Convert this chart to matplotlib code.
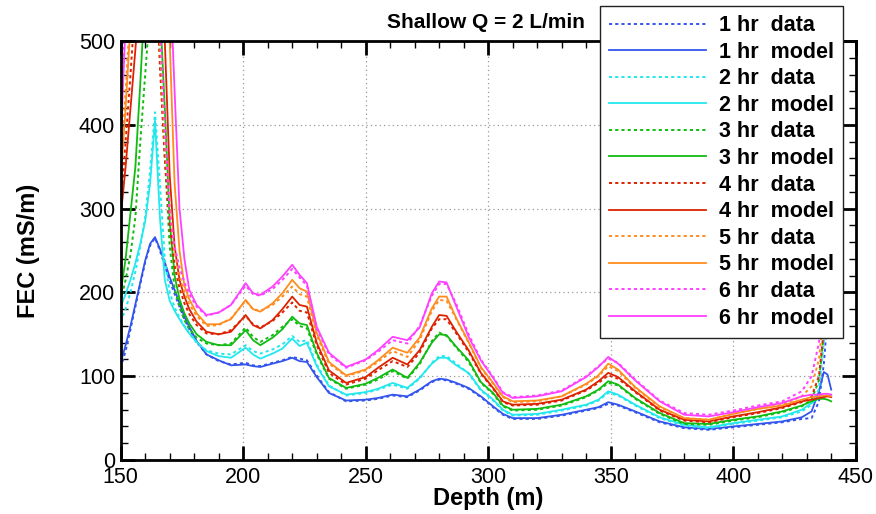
import matplotlib
matplotlib.use("Agg")
import matplotlib.pyplot as plt
from matplotlib.ticker import MultipleLocator

plt.rcParams['font.family'] = ['Liberation Sans', 'DejaVu Sans']

depth = [150, 152, 154, 156, 158, 160, 162, 164, 166, 168,
         170, 172, 174, 176, 178, 181, 185, 190, 195, 201,
         204, 207, 212, 216, 220, 223, 226, 230, 235, 242,
         250, 255, 261, 267, 272, 277, 280, 283, 287, 292,
         297, 302, 306, 310, 320, 330, 340, 345, 349, 353,
         360, 370, 380, 390, 400, 410, 420, 428, 432, 435,
         437, 438.5, 440]

hr1_data = [110, 130, 156, 183, 210, 236, 256, 265, 250, 232,
            214, 198, 183, 168, 156, 141, 126, 118, 114, 116,
            113, 112, 116, 119, 123, 121, 119, 101, 81, 70,
            71, 73, 77, 75, 83, 93, 96, 95, 91, 85,
            75, 63, 54, 49, 49, 53, 59, 62, 67, 65,
            57, 45, 38, 36, 39, 42, 45, 49, 50, 70,
            115, 170, 230]
hr1_model = [116, 137, 160, 186, 212, 238, 258, 266, 252, 236,
             218, 203, 187, 171, 159, 142, 126, 119, 113, 114,
             112, 111, 115, 118, 122, 118, 117, 99, 80, 71,
             72, 74, 78, 76, 84, 94, 97, 96, 92, 86,
             76, 64, 55, 50, 50, 54, 60, 63, 69, 66,
             58, 46, 39, 37, 40, 43, 46, 51, 58, 82,
             105, 102, 84]

hr2_data = [165, 180, 200, 225, 255, 290, 345, 415, 330, 240,
            200, 182, 170, 160, 151, 140, 131, 127, 126, 137,
            130, 127, 132, 138, 148, 141, 143, 114, 89, 77,
            80, 84, 90, 85, 97, 116, 124, 124, 115, 103,
            83, 71, 59, 53, 54, 59, 65, 71, 80, 77,
            65, 50, 41, 38, 43, 47, 51, 58, 66, 85,
            140, 200, 260]
hr2_model = [183, 198, 215, 235, 258, 285, 330, 405, 290, 215,
             190, 178, 168, 159, 151, 141, 130, 124, 122, 134,
             126, 121, 127, 133, 145, 136, 140, 112, 88, 78,
             81, 85, 92, 86, 98, 115, 122, 122, 113, 104,
             84, 72, 60, 54, 55, 60, 66, 72, 82, 78,
             66, 51, 42, 39, 44, 48, 52, 60, 68, 74,
             76, 77, 76]

hr3_data = [190, 215, 245, 290, 380, 460, 540, 590, 480, 360,
            255, 205, 182, 167, 156, 146, 139, 137, 139, 158,
            147, 141, 149, 159, 168, 160, 157, 126, 97, 85,
            90, 96, 106, 97, 114, 142, 152, 148, 134, 117,
            92, 79, 64, 59, 60, 65, 75, 83, 92, 89,
            73, 55, 43, 42, 47, 51, 57, 64, 72, 95,
            150, 210, 270]
hr3_model = [200, 240, 295, 350, 450, 560, 620, 600, 540, 420,
             285, 220, 192, 175, 163, 150, 141, 137, 137, 155,
             143, 137, 146, 156, 171, 163, 161, 128, 98, 86,
             91, 98, 108, 98, 116, 140, 150, 149, 135, 119,
             93, 80, 65, 60, 61, 66, 76, 84, 94, 90,
             74, 56, 44, 43, 48, 52, 58, 65, 70, 73,
             73, 72, 70]

hr4_data = [300, 380, 460, 550, 650, 740, 760, 620, 470, 360,
            280, 232, 205, 187, 174, 161, 151, 150, 155, 172,
            162, 158, 166, 176, 188, 178, 176, 137, 104, 90,
            97, 107, 118, 111, 128, 157, 168, 168, 151, 129,
            103, 85, 69, 65, 66, 71, 83, 92, 101, 97,
            81, 59, 47, 45, 51, 56, 62, 69, 76, 100,
            155, 215, 275]
hr4_model = [290, 350, 420, 490, 570, 680, 760, 780, 700, 500,
             340, 255, 215, 195, 180, 165, 153, 150, 153, 173,
             161, 157, 167, 180, 195, 185, 183, 140, 107, 92,
             99, 110, 122, 114, 131, 159, 173, 172, 153, 131,
             104, 86, 70, 66, 67, 72, 84, 94, 104, 99,
             82, 60, 48, 46, 52, 57, 63, 70, 72, 74,
             75, 76, 75]

hr5_data = [350, 440, 540, 640, 740, 830, 850, 700, 500, 380,
            300, 250, 220, 200, 186, 172, 160, 161, 169, 190,
            180, 178, 185, 195, 207, 198, 195, 149, 115, 100,
            107, 117, 130, 123, 143, 178, 191, 190, 168, 140,
            110, 91, 75, 69, 70, 76, 90, 100, 112, 106,
            86, 63, 50, 48, 55, 61, 66, 76, 88, 120,
            175, 235, 290]
hr5_model = [335, 420, 520, 610, 720, 820, 860, 850, 780, 630,
             500, 330, 250, 208, 192, 175, 162, 162, 168, 191,
             180, 177, 187, 199, 215, 205, 201, 152, 117, 101,
             108, 119, 134, 128, 146, 181, 195, 195, 169, 141,
             111, 92, 76, 70, 71, 76, 91, 101, 115, 108,
             87, 64, 50, 48, 55, 61, 65, 72, 75, 76,
             77, 77, 76]

hr6_data = [400, 540, 660, 780, 870, 940, 950, 800, 520, 400,
            295, 255, 230, 212, 198, 183, 172, 176, 185, 208,
            198, 196, 204, 215, 228, 218, 208, 157, 126, 110,
            119, 129, 143, 139, 160, 196, 210, 210, 186, 150,
            120, 99, 81, 75, 77, 83, 100, 112, 121, 116,
            96, 71, 56, 54, 59, 65, 70, 82, 100, 140,
            195, 250, 300]
hr6_model = [380, 520, 640, 760, 860, 940, 960, 940, 870, 740,
             590, 440, 300, 240, 203, 185, 173, 176, 185, 211,
             199, 197, 207, 219, 233, 221, 211, 159, 128, 111,
             120, 131, 147, 143, 158, 199, 213, 212, 183, 147,
             119, 98, 80, 74, 76, 82, 99, 111, 123, 115,
             95, 70, 54, 52, 57, 63, 68, 76, 78, 78,
             79, 79, 78]

hours = ['1', '2', '3', '4', '5', '6']
colors = ['#3355EE', '#22E8EE', '#11BB11', '#DD2200', '#FF8C1E', '#FF40FF']
data_series = [hr1_data, hr2_data, hr3_data, hr4_data, hr5_data, hr6_data]
model_series = [hr1_model, hr2_model, hr3_model, hr4_model, hr5_model, hr6_model]

fig = plt.figure(figsize=(8.76, 5.14), dpi=100)
ax = fig.add_axes([120.7 / 876, 1 - 460 / 514, (855.7 - 120.7) / 876, (460 - 41) / 514])

handles = []
labels = []
for h, c, d, m in zip(hours, colors, data_series, model_series):
    ld, = ax.plot(depth, d, color=c, lw=1.4, ls=(0, (1.6, 1.6)))
    lm, = ax.plot(depth, m, color=c, lw=1.3, ls='-')
    handles += [ld, lm]
    labels += [f'{h} hr  data', f'{h} hr  model']

ax.set_xlim(150, 450)
ax.set_ylim(0, 500)
ax.xaxis.set_major_locator(MultipleLocator(50))
ax.xaxis.set_minor_locator(MultipleLocator(10))
ax.yaxis.set_major_locator(MultipleLocator(100))
ax.yaxis.set_minor_locator(MultipleLocator(20))
ax.grid(True, which='major', color='#999999', ls=(0, (1, 2.5)), lw=0.9)
for s in ax.spines.values():
    s.set_linewidth(2.0)
ax.tick_params(which='both', direction='in', top=True, right=True, labelsize=15.5)
ax.tick_params(which='major', length=10, width=2.0, pad=4)
ax.tick_params(which='minor', length=5, width=1.0)
ax.tick_params(axis='x', which='major', pad=5)
ax.set_xlabel('Depth (m)', fontsize=17, fontweight='bold', labelpad=-1)
ax.set_ylabel('FEC (mS/m)', fontsize=17, fontweight='bold', labelpad=28)

fig.text(585 / 876, 1 - 22 / 514, 'Shallow Q = 2 L/min', ha='right', va='center',
         fontsize=15, fontweight='bold')

leg = fig.legend(handles, labels, loc='upper left', bbox_to_anchor=(600 / 876, 1 - 6 / 514),
                 prop={'weight': 'bold', 'size': 15.5}, frameon=True, fancybox=False,
                 framealpha=1, edgecolor='#222222', handlelength=4.5, handletextpad=0.6,
                 labelspacing=0.26, borderpad=0.42, borderaxespad=0)
leg.get_frame().set_linewidth(1.0)

fig.savefig('out.png', dpi=100)
